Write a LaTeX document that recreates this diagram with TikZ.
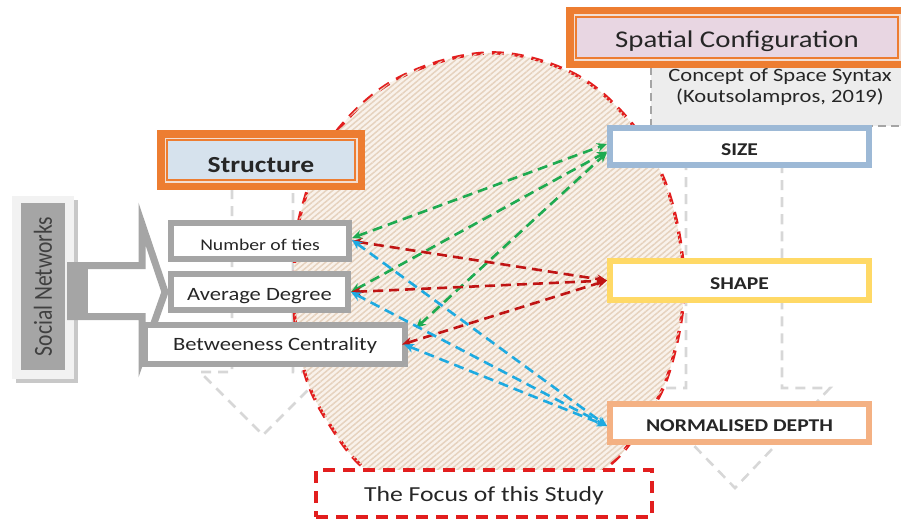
\documentclass[tikz,border=0pt]{standalone}
\usepackage{fontspec}
\setmainfont[FakeStretch=1.2]{Carlito}
\newfontfamily\uprightfont[FakeStretch=0.83]{Carlito}
\usetikzlibrary{arrows.meta,patterns.meta}

\definecolor{orangeC}{RGB}{237,125,49}
\definecolor{gapC}{RGB}{243,222,210}
\definecolor{structC}{RGB}{214,226,237}
\definecolor{spatialC}{RGB}{232,214,226}
\definecolor{boxgray}{RGB}{165,165,165}
\definecolor{panelC}{RGB}{242,242,242}
\definecolor{shadowC}{RGB}{200,200,200}
\definecolor{conceptC}{RGB}{237,237,237}
\definecolor{sizeC}{RGB}{157,185,214}
\definecolor{shapeC}{RGB}{255,217,102}
\definecolor{depthC}{RGB}{244,177,131}
\definecolor{focusred}{RGB}{226,30,30}
\definecolor{hatchbg}{RGB}{249,242,235}
\definecolor{hatchC}{RGB}{230,210,190}
\definecolor{ghost}{RGB}{215,215,215}
\definecolor{tieG}{RGB}{30,170,80}
\definecolor{tieR}{RGB}{192,20,20}
\definecolor{tieB}{RGB}{30,170,225}
\definecolor{txt}{RGB}{38,38,38}

\begin{document}
\begin{tikzpicture}[x=1pt,y=-1pt,
    header/.style={draw=orangeC, line width=1.2pt, fill=#1, text=txt, inner sep=0pt, text depth=0pt,
        preaction={draw=orangeC, line width=20pt},
        preaction={draw=gapC, line width=5pt}},
    factor/.style={draw=boxgray, line width=6pt, fill=white, text=txt, inner sep=0pt, minimum height=36pt,
        text depth=0pt},
    measure/.style={draw=#1, line width=6pt, fill=white, text=txt, inner sep=0pt, minimum width=259pt,
        text depth=0pt, font=\fontsize{18}{20}\selectfont\bfseries},
    link/.style={#1, line width=2.6pt, dash pattern=on 10pt off 6pt,
        {Stealth[length=10pt,width=9pt]}-{Stealth[length=10pt,width=9pt]}},
    ghostarrow/.style={ghost, line width=2.6pt, dash pattern=on 10pt off 7pt},
    redline/.style={draw=focusred, line width=3.4pt, dash pattern=on 12pt off 8pt}
]
    \useasboundingbox (0,0) rectangle (901,519);

    % Draw the concept box and the spatial header
    \draw[fill=conceptC, draw=boxgray, line width=2pt, dash pattern=on 8pt off 5pt] (651,67) rectangle (930,126);
    \node[align=center, text=txt, font=\fontsize{18.8}{21}\selectfont] (concept) at (780,87.5)
        {Concept of Space Syntax\\(Koutsolampros, 2019)};
    \node[header=spatialC, minimum width=322pt, minimum height=41pt, text height=20.5pt,
        font=\fontsize{24}{26}\selectfont] (spatial) at (737,37.5) {Spatial Configuration};

    % Draw the faint arrows behind
    \draw[ghostarrow] (232,189) -- (232,372) -- (200,372) -- (263,435) -- (326,372) -- (293,372) -- (293,189);
    \draw[ghostarrow] (686,126) -- (686,388) -- (638,388) -- (735,488) -- (830,388) -- (782,388) -- (782,126);

    % Draw the hatched area
    \path[redline, fill=hatchbg,
        postaction={pattern={Lines[angle=40,distance=4.2pt,line width=1.5pt]}, pattern color=hatchC}]
        plot[smooth cycle, tension=0.6] coordinates {(487,53) (570,72) (627,118) (662,175) (680,240)
        (683,305) (668,375) (645,420) (613,462) (560,495) (487,502) (410,492) (363,467) (330,425)
        (307,380) (295,320) (295,255) (303,205) (330,140) (395,80)};

    % Draw the social networks panel
    \fill[shadowC] (16,200) rectangle (78,383);
    \fill[panelC] (12,196) rectangle (74,379);
    \node[fill=boxgray, rotate=90, minimum width=167pt, minimum height=44pt, inner sep=0pt,
        text=black!75, font=\uprightfont\fontsize{26}{28}\selectfont] (social) at (43,286.5) {Social Networks};
    \draw[boxgray, line width=7pt, fill=white, line join=miter] (70.5,265.5) -- (142,265.5) -- (142,224)
        -- (165,292) -- (142,357) -- (142,316.5) -- (70.5,316.5) -- cycle;
    \fill[boxgray] (67,262) rectangle (88,320);

    % Structure and its factors
    \node[header=structC, minimum width=188pt, minimum height=40pt, text height=24.8pt,
        font=\fontsize{23}{25}\selectfont\bfseries] (structure) at (261,160) {Structure};
    \node[factor, minimum width=178pt, text height=18pt, font=\fontsize{16.4}{18}\selectfont]
        (ties) at (260,241) {Number of ties};
    \node[factor, minimum width=177pt, text height=16pt, font=\fontsize{18.8}{20}\selectfont]
        (degree) at (259.5,292) {Average Degree};
    \node[factor, minimum width=260pt, minimum height=39pt, text height=11pt, font=\fontsize{18.8}{20}\selectfont]
        (betw) at (275,344.5) {Betweeness Centrality};

    % Spatial measures
    \node[measure=sizeC, minimum height=37pt, text height=18.6pt] (sizebox) at (739.5,146.5) {SIZE};
    \node[measure=shapeC, minimum height=39pt, text height=17.6pt] (shapebox) at (739.5,280.5) {SHAPE};
    \node[measure=depthC, minimum height=38pt, text height=17.2pt] (depthbox) at (739.5,423) {NORMALISED DEPTH};

    % Links to size
    \draw[link=tieG] ([yshift=3pt]ties.east) -- ([yshift=2.5pt]sizebox.west);
    \draw[link=tieG] (degree.east) -- ([yshift=-5pt]sizebox.west);
    \draw[link=tieG] ([shift={(8pt,-6pt)}]betw.north east) -- ([yshift=-6pt]sizebox.west);
    % Links to shape
    \draw[link=tieR] (ties.east) -- (shapebox.west);
    \draw[link=tieR] (degree.east) -- (shapebox.west);
    \draw[link=tieR] ([xshift=-6pt]betw.east) -- (shapebox.west);
    % Links to depth
    \draw[link=tieB] ([yshift=1pt]ties.east) -- ([yshift=-3pt]depthbox.west);
    \draw[link=tieB] (degree.east) -- ([yshift=-3pt]depthbox.west);
    \draw[link=tieB] ([xshift=-4pt]betw.east) -- ([yshift=-3pt]depthbox.west);

    % The focus label
    \node[redline, fill=white, minimum width=336pt, minimum height=47pt, text height=15.2pt, text depth=0pt,
        text=txt, font=\fontsize{21.4}{23}\selectfont] (focus) at (484,493.5) {The Focus of this Study};
\end{tikzpicture}
\end{document}
